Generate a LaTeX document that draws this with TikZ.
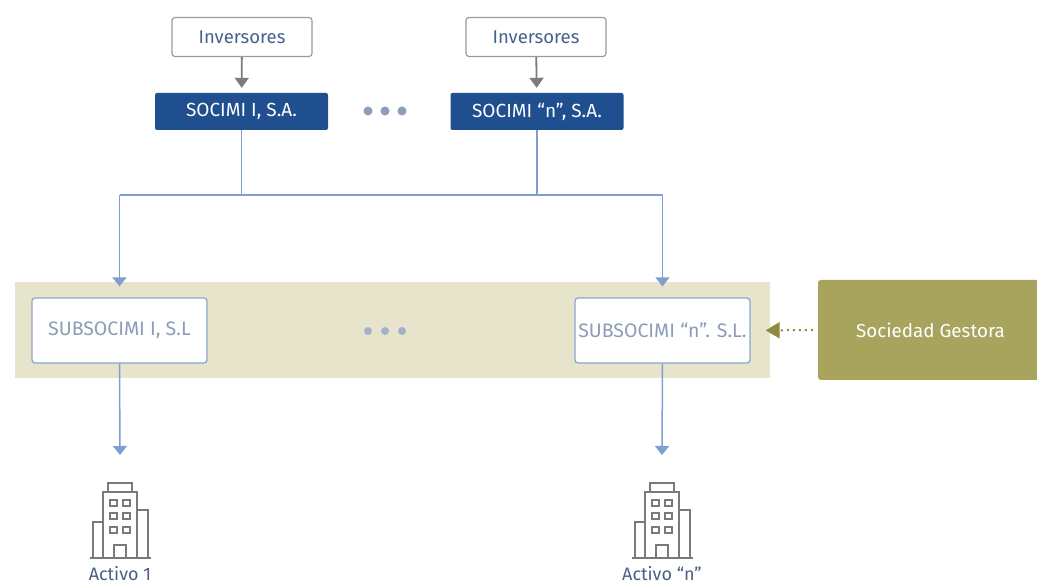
\documentclass[tikz,border=0pt]{standalone}
\usepackage{fontspec}
\setmainfont{Fira Sans}
\usetikzlibrary{arrows.meta}
\definecolor{socblue}{HTML}{1F4F8E}
\definecolor{lineblue}{HTML}{7F9FD2}
\definecolor{subborder}{HTML}{8AA6D0}
\definecolor{subtext}{HTML}{8C9DB8}
\definecolor{invtext}{HTML}{46628F}
\definecolor{invborder}{HTML}{9A9A9A}
\definecolor{grayarrow}{HTML}{7C7C7C}
\definecolor{bandfill}{HTML}{E7E4CC}
\definecolor{olive}{HTML}{A8A45E}
\definecolor{olivedark}{HTML}{8E8A3E}
\definecolor{dotblue}{HTML}{8D9EBB}
\definecolor{bldgray}{HTML}{7A7A7A}
\definecolor{acttext}{HTML}{4C5F86}
\begin{document}
\begin{tikzpicture}[x=1pt,y=-1pt,
  invbox/.style={draw=invborder, line width=1.2pt, fill=white, rounded corners=3pt,
    minimum width=140pt, minimum height=39pt, inner sep=0pt, text=invtext,
    font=\fontsize{18.5}{22}\selectfont},
  socbox/.style={fill=socblue, rounded corners=2pt, minimum width=173pt,
    minimum height=37pt, inner sep=0pt, text=white, font=\fontsize{19}{22}\selectfont},
  subbox/.style={draw=subborder, line width=1.3pt, fill=white, rounded corners=3pt,
    minimum width=175pt, minimum height=65pt, inner sep=0pt, text=subtext,
    font=\fontsize{19.5}{22}\selectfont},
  bandbox/.style={fill=bandfill, minimum width=755pt, minimum height=96pt, inner sep=0pt},
  gestbox/.style={fill=olive, rounded corners=3pt, minimum width=225pt, minimum height=100pt,
    inner sep=0pt, text=white, font=\fontsize{18.8}{22}\selectfont},
  acttxt/.style={text=acttext, inner sep=0pt, anchor=base, font=\fontsize{18}{22}\selectfont},
  grayarr/.style={draw=grayarrow, line width=1.8pt, -{Triangle[length=10pt,width=14pt]}},
  blueline/.style={draw=lineblue, line width=1.5pt},
  bluearr/.style={draw=lineblue, line width=1.5pt, -{Triangle[length=9pt,width=14pt]}},
  dotarr/.style={draw=olivedark, line width=2pt, dash pattern=on 2pt off 4pt,
    -{Triangle[length=14pt,width=16pt]}},
  building/.pic={
    \begin{scope}[draw=bldgray, line width=1.5pt, line join=miter]
      \draw (-30,0) -- (31,0);
      \draw (-17,0) -- (-17,-66) -- (17,-66) -- (17,0);
      \draw (-12,-66) -- (-12,-75) -- (12,-75) -- (12,-66);
      \draw (-17,-36) -- (-27,-36) -- (-27,0);
      \draw (17,-48) -- (28,-48) -- (28,0);
      \foreach \yy in {-58,-45,-31} {
        \draw (-10,\yy) rectangle (-3,\yy+6);
        \draw (3,\yy) rectangle (10,\yy+6);
      }
      \draw (-6,0) -- (-6,-13) -- (6,-13) -- (6,0);
    \end{scope}
  }
]
\useasboundingbox (0,0) rectangle (1037,585);
\fill[white] (0,0) rectangle (1037,585);

% top row
\node[invbox] (inv1) at (242,37) {Inversores};
\node[invbox] (invn) at (536,37) {Inversores};
\node[socbox] (soc1) at (241.5,111.5) {SOCIMI I, S.A.};
\node[socbox] (socn) at (537,111.5) {SOCIMI ``n'', S.A.};
\foreach \xx in {368,385,402} \fill[dotblue] (\xx,111) circle (4.5);

\draw[grayarr, shorten >=5pt] (inv1) -- (soc1);
\draw[grayarr, shorten >=5pt] (invn) -- (socn);

% band
\node[bandbox] (band) at (392.5,330) {};
\node[subbox] (sub1) at (119.5,330.5) {SUBSOCIMI I, S.L};
\node[subbox] (subn) at (662.5,330.5) {SUBSOCIMI ``n''. S.L.};
\foreach \xx in {368,385,402} \fill[dotblue!80] (\xx,331) circle (4);

% gestora
\node[gestbox] (gest) at (930.5,330) {Sociedad Gestora};
\draw[dotarr, shorten <=5pt, shorten >=15pt] (gest.west) -- (subn.east);

% connectors
\coordinate (hl) at (119.5,195);
\coordinate (hr) at (662.5,195);
\draw[blueline] (soc1.south) -- (soc1.south |- hl);
\draw[blueline] (socn.south) -- (socn.south |- hl);
\draw[blueline] (hl) -- (hr);
\draw[bluearr, shorten >=11pt] (hl) -- (sub1.north);
\draw[bluearr, shorten >=11pt] (hr) -- (subn.north);

% assets
\pic (b1) at (120,558) {building};
\pic (bn) at (662,558) {building};
\coordinate (t1) at (120,455);
\coordinate (tn) at (662,455);
\draw[bluearr] (sub1.south) -- (t1);
\draw[bluearr] (subn.south) -- (tn);
\node[acttxt] (act1) at (120,580) {Activo 1};
\node[acttxt] (actn) at (662,580) {Activo ``n''};
\end{tikzpicture}
\end{document}
